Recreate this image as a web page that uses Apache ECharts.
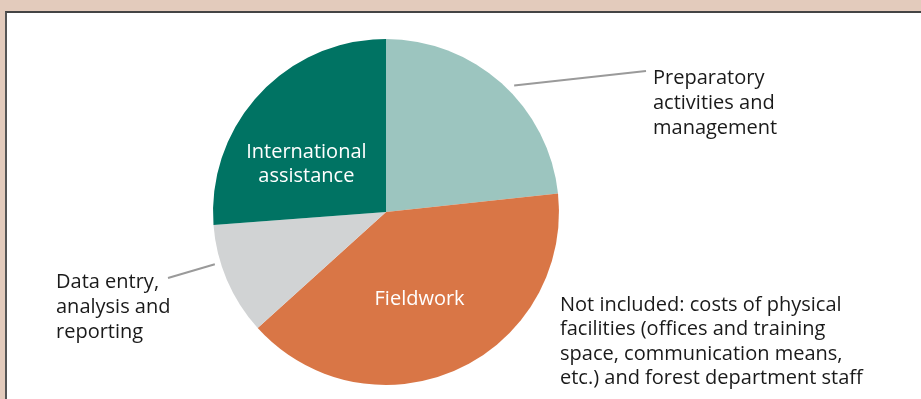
<!DOCTYPE html>
<html>
<head>
<meta charset="utf-8">
<script src="https://cdn.jsdelivr.net/npm/echarts@6/dist/echarts.min.js"></script>
<style>
  html, body { margin: 0; padding: 0; }
  body { width: 921px; height: 399px; background: #e3cbbc; position: relative; overflow: hidden; }
  #panel { position: absolute; left: 5px; top: 11px; width: 1000px; height: 500px;
           background: #ffffff; border-left: 2px solid #555; border-top: 2px solid #444; }
  #chart { position: absolute; left: 0; top: 0; width: 921px; height: 399px; }
</style>
</head>
<body>
<div id="panel"></div>
<div id="chart"></div>
<script>
// Cost breakdown of the survey (share of total budget, %)
const categories = [
  'Preparatory\nactivities and\nmanagement',
  'Fieldwork',
  'Data entry,\nanalysis and\nreporting',
  'International\nassistance'
];
const shares = [23.3, 40.0, 10.5, 26.2];
const sliceColors = ['#9cc5bf', '#d97646', '#d1d3d4', '#007363'];
const note = 'Not included: costs of physical\nfacilities (offices and training\nspace, communication means,\netc.) and forest department staff';

const FONT = '"Open Sans", "Noto Sans", sans-serif';
const CX = 386, CY = 212, R = 173;

// point just outside the rim at a given clockwise angle from 12 o'clock
function rim(angleDeg, extra) {
  const a = angleDeg * Math.PI / 180;
  return [CX + (R + extra) * Math.sin(a), CY - (R + extra) * Math.cos(a)];
}

const outsideLabel = {
  0: { x: 653, y: 66, line: [rim(45.4, 7), [646, 71]] },
  2: { x: 56, y: 270, line: [rim(253, 6), [168, 278]] }
};
const insideShift = { 1: [-3, 6], 3: [-14, 13] };

const chart = echarts.init(document.getElementById('chart'), null, { renderer: 'canvas' });
chart.setOption({
  backgroundColor: 'transparent',
  animation: false,
  series: [{
    type: 'pie',
    center: [CX, CY],
    radius: [0, R],
    startAngle: 90,
    clockwise: true,
    silent: true,
    itemStyle: { borderWidth: 0 },
    data: categories.map((name, i) => {
      const inside = !(i in outsideLabel);
      return {
        name: name,
        value: shares[i],
        itemStyle: { color: sliceColors[i] },
        label: inside ? {
          show: true, position: 'inside', color: '#ffffff',
          fontFamily: FONT, fontSize: 20, lineHeight: 24, align: 'center'
        } : {
          show: true, position: 'outside', color: '#1a1a1a',
          fontFamily: FONT, fontSize: 20, lineHeight: 25, align: 'left'
        },
        labelLine: inside ? { show: false } : {
          show: true, lineStyle: { color: '#9a9a9a', width: 2 }
        }
      };
    }),
    label: { formatter: '{b}' },
    labelLayout: function (params) {
      const o = outsideLabel[params.dataIndex];
      if (o) {
        return {
          x: o.x, y: o.y, align: 'left', verticalAlign: 'top',
          labelLinePoints: o.line
        };
      }
      const s = insideShift[params.dataIndex];
      return s ? { dx: s[0], dy: s[1] } : {};
    }
  }],
  graphic: [{
    type: 'text',
    left: 560,
    top: 293,
    style: {
      text: note,
      fill: '#1a1a1a',
      font: '20px ' + FONT,
      lineHeight: 24.5
    }
  }]
});
</script>
</body>
</html>
